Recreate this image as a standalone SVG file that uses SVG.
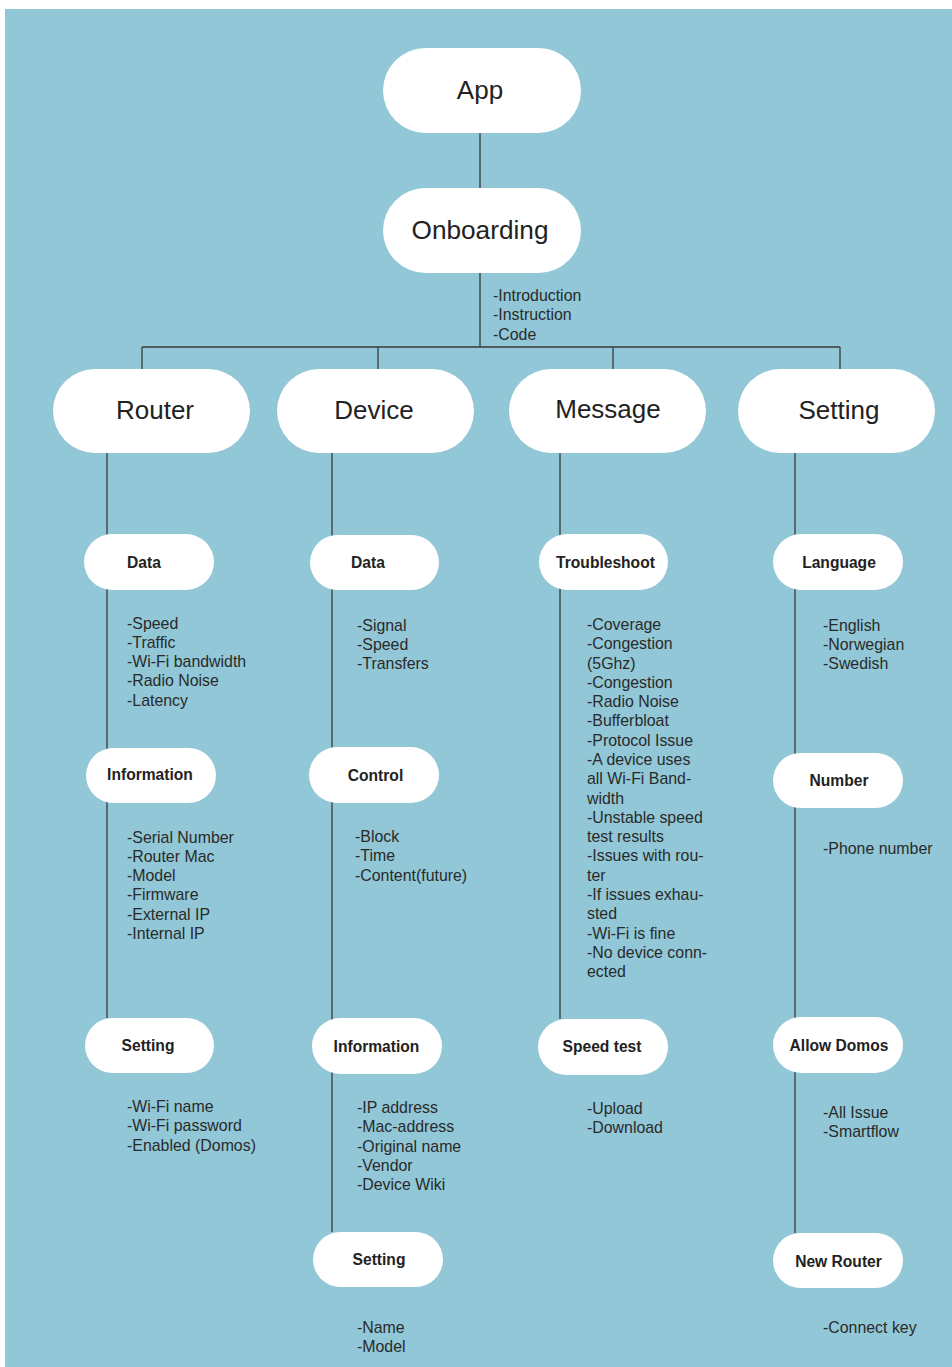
<svg xmlns="http://www.w3.org/2000/svg" width="952" height="1367" viewBox="0 0 952 1367">
<style>
.bg{fill:#91C7D6}
.n{fill:#fff}
.big{font-family:"Liberation Sans",Arial,sans-serif;font-size:26px;fill:#222;text-anchor:middle}
.sm{font-family:"Liberation Sans",Arial,sans-serif;font-size:15.6px;font-weight:bold;fill:#222;text-anchor:middle}
.li{font-family:"Liberation Sans",Arial,sans-serif;font-size:15.9px;fill:#2a2a2a}
.c{stroke:#3a3a3a;stroke-width:1.3;fill:none}
</style>
<rect width="952" height="1367" fill="#fff"/>
<rect class="bg" x="5" y="9" width="947" height="1358"/>
<g id="connectors">
<path class="c" d="M480 133V188M480 273V347M142 347H840M142 347V369M378 347V369M613 347V369M840 347V369"/>
<path class="c" d="M107 453V1018M332 453V1232M560 453V1019M795 453V1233"/>
</g>
<g id="app"><rect class="n" x="383" y="48" width="198" height="85" rx="42.5"/><text class="big" x="480" y="98.5">App</text></g>
<g id="onboarding"><rect class="n" x="383" y="188" width="198" height="85" rx="42.5"/><text class="big" x="480" y="239" textLength="137" lengthAdjust="spacingAndGlyphs">Onboarding</text>
<text class="li" x="493" y="301">-Introduction</text><text class="li" x="493" y="320.3">-Instruction</text><text class="li" x="493" y="339.6">-Code</text></g>
<g id="router"><rect class="n" x="53" y="369" width="197" height="84" rx="42"/><text class="big" x="155" y="418.5">Router</text></g>
<g id="device"><rect class="n" x="277" y="369" width="197" height="84" rx="42"/><text class="big" x="374" y="418.5">Device</text></g>
<g id="message"><rect class="n" x="509" y="369" width="197" height="84" rx="42"/><text class="big" x="608" y="417.5">Message</text></g>
<g id="setting"><rect class="n" x="738" y="369" width="197" height="84" rx="42"/><text class="big" x="839" y="418.5">Setting</text></g>

<g id="router-data"><rect class="n" x="84" y="534" width="130" height="56" rx="28"/><text class="sm" x="144" y="567.5">Data</text>
<text class="li"><tspan x="127" y="628.5">-Speed</tspan><tspan x="127" y="647.8">-Traffic</tspan><tspan x="127" y="667.1">-Wi-Fi bandwidth</tspan><tspan x="127" y="686.4">-Radio Noise</tspan><tspan x="127" y="705.7">-Latency</tspan></text></g>
<g id="router-information"><rect class="n" x="86" y="748" width="130" height="55" rx="27.5"/><text class="sm" x="150" y="780">Information</text>
<text class="li"><tspan x="127" y="842.5">-Serial Number</tspan><tspan x="127" y="861.8">-Router Mac</tspan><tspan x="127" y="881.1">-Model</tspan><tspan x="127" y="900.4">-Firmware</tspan><tspan x="127" y="919.7">-External IP</tspan><tspan x="127" y="939">-Internal IP</tspan></text></g>
<g id="router-setting"><rect class="n" x="85" y="1018" width="129" height="55" rx="27.5"/><text class="sm" x="148" y="1051">Setting</text>
<text class="li"><tspan x="127" y="1112">-Wi-Fi name</tspan><tspan x="127" y="1131.3">-Wi-Fi password</tspan><tspan x="127" y="1150.6">-Enabled (Domos)</tspan></text></g>

<g id="device-data"><rect class="n" x="310" y="535" width="129" height="55" rx="27.5"/><text class="sm" x="368" y="567.5">Data</text>
<text class="li"><tspan x="357" y="630.5">-Signal</tspan><tspan x="357" y="649.8">-Speed</tspan><tspan x="357" y="669.1">-Transfers</tspan></text></g>
<g id="device-control"><rect class="n" x="309" y="747" width="130" height="56" rx="28"/><text class="sm" x="375.5" y="780.5">Control</text>
<text class="li"><tspan x="355" y="842">-Block</tspan><tspan x="355" y="861.3">-Time</tspan><tspan x="355" y="880.6">-Content(future)</tspan></text></g>
<g id="device-information"><rect class="n" x="312" y="1018" width="130" height="56" rx="28"/><text class="sm" x="376.5" y="1051.5">Information</text>
<text class="li"><tspan x="357" y="1113">-IP address</tspan><tspan x="357" y="1132.3">-Mac-address</tspan><tspan x="357" y="1151.6">-Original name</tspan><tspan x="357" y="1170.9">-Vendor</tspan><tspan x="357" y="1190.2">-Device Wiki</tspan></text></g>
<g id="device-setting"><rect class="n" x="313" y="1232" width="130" height="55" rx="27.5"/><text class="sm" x="379" y="1264.5">Setting</text>
<text class="li"><tspan x="357" y="1332.5">-Name</tspan><tspan x="357" y="1351.8">-Model</tspan></text></g>

<g id="message-troubleshoot"><rect class="n" x="539" y="534" width="129" height="56" rx="28"/><text class="sm" x="605.5" y="568">Troubleshoot</text>
<text class="li"><tspan x="587" y="630">-Coverage</tspan><tspan x="587" y="649.3">-Congestion</tspan><tspan x="587" y="668.6">(5Ghz)</tspan><tspan x="587" y="687.8">-Congestion</tspan><tspan x="587" y="707.1">-Radio Noise</tspan><tspan x="587" y="726.4">-Bufferbloat</tspan><tspan x="587" y="745.7">-Protocol Issue</tspan><tspan x="587" y="765">-A device uses</tspan><tspan x="587" y="784.2">all Wi-Fi Band-</tspan><tspan x="587" y="803.5">width</tspan><tspan x="587" y="822.8">-Unstable speed</tspan><tspan x="587" y="842.1">test results</tspan><tspan x="587" y="861.4">-Issues with rou-</tspan><tspan x="587" y="880.6">ter</tspan><tspan x="587" y="899.9">-If issues exhau-</tspan><tspan x="587" y="919.2">sted</tspan><tspan x="587" y="938.5">-Wi-Fi is fine</tspan><tspan x="587" y="957.8">-No device conn-</tspan><tspan x="587" y="977">ected</tspan></text></g>
<g id="message-speedtest"><rect class="n" x="538" y="1019" width="130" height="56" rx="28"/><text class="sm" x="602" y="1052">Speed test</text>
<text class="li"><tspan x="587" y="1114">-Upload</tspan><tspan x="587" y="1133.3">-Download</tspan></text></g>

<g id="setting-language"><rect class="n" x="773" y="534" width="130" height="56" rx="28"/><text class="sm" x="839" y="567.5">Language</text>
<text class="li"><tspan x="823" y="630.5">-English</tspan><tspan x="823" y="649.8">-Norwegian</tspan><tspan x="823" y="669.1">-Swedish</tspan></text></g>
<g id="setting-number"><rect class="n" x="773" y="753" width="130" height="55" rx="27.5"/><text class="sm" x="839" y="786">Number</text>
<text class="li"><tspan x="823" y="854">-Phone number</tspan></text></g>
<g id="setting-allowdomos"><rect class="n" x="773" y="1017" width="130" height="56" rx="28"/><text class="sm" x="839" y="1051">Allow Domos</text>
<text class="li"><tspan x="823" y="1118">-All Issue</tspan><tspan x="823" y="1137.3">-Smartflow</tspan></text></g>
<g id="setting-newrouter"><rect class="n" x="773" y="1233" width="130" height="55" rx="27.5"/><text class="sm" x="838.5" y="1267">New Router</text>
<text class="li"><tspan x="823" y="1333">-Connect key</tspan></text></g>
</svg>
